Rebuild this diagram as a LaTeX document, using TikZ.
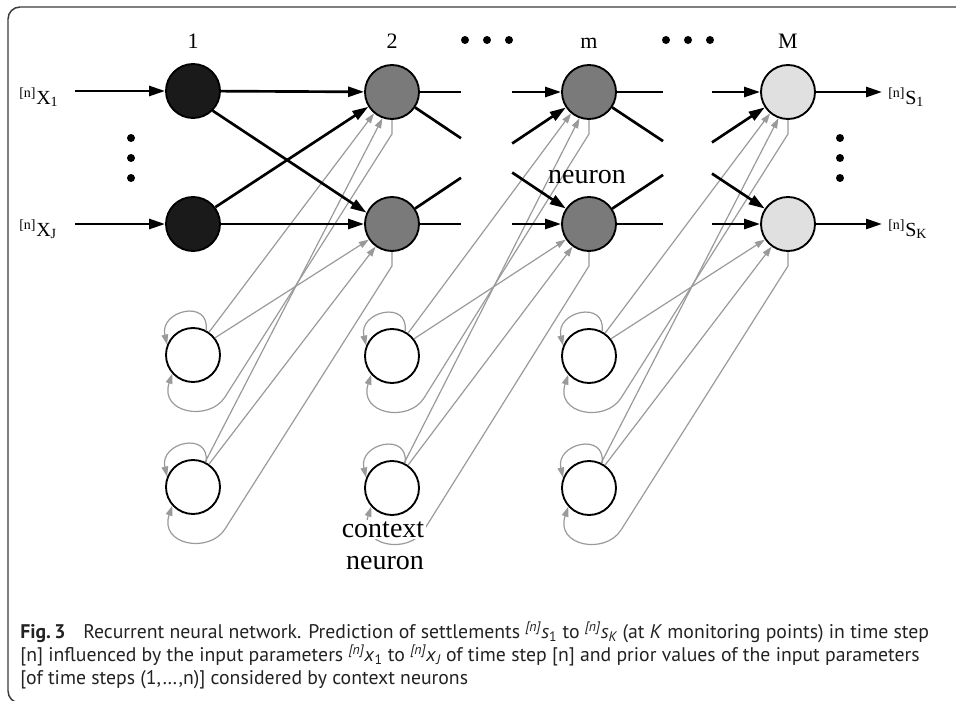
\documentclass[tikz,border=0pt]{standalone}
\usepackage{fontspec}
\setmainfont{Liberation Serif}
\newfontfamily\capfont{PT Sans}
\usetikzlibrary{arrows.meta,calc}
\definecolor{inkblack}{HTML}{1A1A1A}
\definecolor{hidgray}{HTML}{7A7A7A}
\definecolor{outgray}{HTML}{E0E0E0}
\definecolor{wiregray}{HTML}{9A9A9A}
\definecolor{framegray}{HTML}{3A3A3A}
\definecolor{captext}{HTML}{222222}
\begin{document}
\begin{tikzpicture}[x=0.75pt,y=-0.75pt,
  neuron/.style={circle,draw=black,line width=1.4pt,minimum size=40.5pt,inner sep=0pt},
  inputn/.style={neuron,fill=inkblack},
  hiddenn/.style={neuron,fill=hidgray},
  outputn/.style={neuron,fill=outgray},
  contextn/.style={neuron,fill=white},
  wire/.style={line width=2pt,draw=black},
  wirearrow/.style={wire,-{Triangle[length=12pt,width=7.5pt]}},
  fb/.style={line width=0.9pt,draw=wiregray},
  fbarrow/.style={fb,-{Triangle[length=7.5pt,width=5pt]}},
  layerlbl/.style={font=\fontsize{16.5}{18}\selectfont,anchor=base,inner sep=0pt},
  biglbl/.style={font=\fontsize{21}{24}\selectfont,anchor=base,inner sep=1pt},
  iolbl/.style={font=\fontsize{15}{17}\selectfont,anchor=base west,inner sep=0pt},
  dotmark/.style={circle,fill=black,inner sep=0pt,minimum size=6pt},
  capline/.style={font=\capfont\fontsize{14.8}{17}\selectfont,text=captext,anchor=base west,inner sep=0pt}
]
\useasboundingbox (0,0) rectangle (956,700);

% outer frame, running off the right and bottom edges
\begin{scope}
  \clip (0,0) rectangle (956,700);
  \draw[framegray,line width=1.1pt,rounded corners=9pt] (8,7) rectangle (990,703);
\end{scope}

% neurons
\node[inputn]   (i1)  at (193,91)  {};
\node[inputn]   (iJ)  at (193,224) {};
\node[hiddenn]  (a1)  at (392,92)  {};
\node[hiddenn]  (a2)  at (392,224) {};
\node[hiddenn]  (b1)  at (589,92)  {};
\node[hiddenn]  (b2)  at (589,224) {};
\node[outputn]  (o1)  at (788,92)  {};
\node[outputn]  (oK)  at (788,224) {};
\node[contextn] (c11) at (193,355) {};
\node[contextn] (c12) at (193,487) {};
\node[contextn] (c21) at (392,356) {};
\node[contextn] (c22) at (392,488) {};
\node[contextn] (c31) at (589,356) {};
\node[contextn] (c32) at (589,488) {};

% copies from the layer neurons back to the context neurons
\foreach \n/\c in {a1/c11,a2/c12,b1/c21,b2/c22,o1/c31,oK/c32}{
  \draw[fbarrow] (\n.south) -- ++(0,14) coordinate (s) -- ($(\c)+(32,42)$) coordinate (p)
    .. controls ($(p)!-0.095!(s)$) and ($(\c)+(-34,58)$) .. (\c.-138);
}
% self loops of the context neurons
\foreach \c in {c11,c12,c21,c22,c31,c32}{
  \draw[fbarrow] (\c.62) .. controls +(4,-32) and +(-8,-34) .. (\c.158);
}
% context neurons feeding the next layer
\foreach \ca/\cb/\nt/\nb in {c11/c12/a1/a2,c21/c22/b1/b2,c31/c32/o1/oK}{
  \draw[fbarrow] (\ca.55) -- (\nt.230);
  \draw[fbarrow] (\ca.38) -- (\nb.214);
  \draw[fbarrow] (\cb.64) -- (\nt.250);
  \draw[fbarrow] (\cb.55) -- (\nb.234);
}

% inputs
\coordinate (x1) at (75,91);
\coordinate (xJ) at (75,224);
\draw[wirearrow] (x1) -- (i1);
\draw[wirearrow] (xJ) -- (iJ);

% layer 1 -> layer 2
\draw[wirearrow] (i1) -- (a1);
\draw[wirearrow] (i1.-45) -- (a2.156);
\draw[wirearrow] (iJ.37) -- (a1.212);
\draw[wirearrow] (iJ) -- (a2);

% layer 2 -> layer m and layer m -> layer M, interrupted in between
\foreach \p/\q in {a1/b1,a1/b2,a2/b1,a2/b2}{
  \draw[wire] (\p) -- ($(\p)!0.35!(\q)$);
  \draw[wirearrow] ($(\p)!0.61!(\q)$) -- (\q);
}
\foreach \p/\q in {b1/o1,b1/oK,b2/o1,b2/oK}{
  \draw[wire] (\p) -- ($(\p)!0.372!(\q)$);
  \draw[wirearrow] ($(\p)!0.618!(\q)$) -- (\q);
}

% outputs
\coordinate (s1) at (882,92);
\coordinate (sK) at (882,224);
\draw[wirearrow] (o1) -- (s1);
\draw[wirearrow] (oK) -- (sK);

% layer numbers
\node[layerlbl] (l1) at (193,48) {1};
\node[layerlbl] (l2) at (392,48) {2};
\node[layerlbl] (lm) at (589,48) {m};
\node[layerlbl] (lM) at (788,48) {M};
\foreach \x in {465,487,509,666,688,710}{
  \node[dotmark] at (\x,40) {};
}
\foreach \y in {138,158,178}{
  \node[dotmark] at (131,\y) {};
  \node[dotmark] at (840,\y) {};
}

% input and output labels
\node[iolbl] (lx1) at (19,104) {\textsuperscript{[n]}X\textsubscript{1}};
\node[iolbl] (lxJ) at (19,236) {\textsuperscript{[n]}X\textsubscript{J}};
\node[iolbl] (ls1) at (888,104) {\textsuperscript{[n]}S\textsubscript{1}};
\node[iolbl] (lsK) at (888,236) {\textsuperscript{[n]}S\textsubscript{K}};

% neuron labels
\node[biglbl] (nlbl) at (587,183) {neuron};
\node[biglbl,fill=white] (ctx1) at (383,537) {context};
\node[biglbl] (ctx2) at (385,569) {neuron};

% caption
\node[capline] (cap1) at (20,638) {\textbf{Fig.\,3}\hspace{0.9em}Recurrent neural network. Prediction of settlements \textsuperscript{\itshape[n]}\textit{s}\textsubscript{1} to \textsuperscript{\itshape[n]}\textit{s}\textsubscript{\itshape K} (at \textit{K} monitoring points) in time step};
\node[capline] (cap2) at (20,661) {[n] influenced by the input parameters \textsuperscript{\itshape[n]}\textit{x}\textsubscript{1} to \textsuperscript{\itshape[n]}\textit{x}\textsubscript{\itshape J} of time step [n] and prior values of the input parameters};
\node[capline] (cap3) at (20,684) {[of time steps (1,\ldots,n)] considered by context neurons};
\end{tikzpicture}
\end{document}
